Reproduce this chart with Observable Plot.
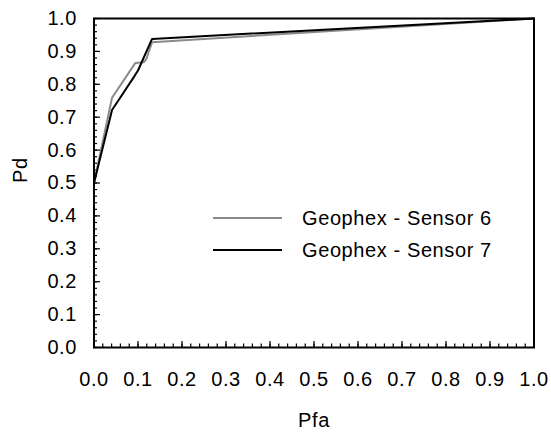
<!DOCTYPE html>
<html>
<head>
<meta charset="utf-8">
<script src="https://cdn.jsdelivr.net/npm/d3@7"></script>
<script src="https://cdn.jsdelivr.net/npm/@observablehq/plot@0.6"></script>
<style>
  html, body { margin: 0; padding: 0; background: #fff; }
  #wrap { position: relative; width: 551px; height: 434px; font-family: "Liberation Sans", Arial, sans-serif; }
  #legend { position: absolute; left: 213px; top: 202px; font-size: 20px; letter-spacing: 0.6px; color: #000; }
  #legend .row { display: flex; align-items: center; height: 32px; }
  #legend svg { margin-right: 20px; }
</style>
</head>
<body>
<div id="wrap"></div>
<script>
// Series names
const seriesNames = ["Geophex - Sensor 6", "Geophex - Sensor 7"];
const seriesColors = ["#8a8a8a", "#000000"];
// Sensor 6 (gray)
const pfa6 = [0, 0.041, 0.094, 0.113, 0.119, 0.132, 1];
const pd6  = [0.5, 0.759, 0.865, 0.867, 0.877, 0.928, 1];
// Sensor 7 (black)
const pfa7 = [0, 0.041, 0.092, 0.100, 0.132, 1];
const pd7  = [0.5, 0.722, 0.825, 0.842, 0.938, 1];
// Tick values
const majorTicks = [0, 0.1, 0.2, 0.3, 0.4, 0.5, 0.6, 0.7, 0.8, 0.9, 1.0];
const minorTicks = d3.range(0, 51).map(i => i / 50);

const s6 = pfa6.map((x, i) => ({x, y: pd6[i], s: seriesNames[0]}));
const s7 = pfa7.map((x, i) => ({x, y: pd7[i], s: seriesNames[1]}));

const fmt = d3.format(".1f");

const W = 551, H = 434, mL = 93.5, mR = 17.5, mT = 18, mB = 87;
const plotW = W - mL - mR, plotH = H - mT - mB;

const chart = Plot.plot({
  width: W,
  height: H,
  marginLeft: mL,
  marginRight: mR,
  marginTop: mT,
  marginBottom: mB,
  style: {fontFamily: "'Liberation Sans', Arial, sans-serif", fontSize: "20px", background: "#fff", color: "#000", letterSpacing: "0.6px"},
  x: {domain: [0, 1]},
  y: {domain: [0, 1]},
  marks: [
    // inward minor and major ticks
    Plot.tickX(minorTicks, {x: d => d, insetTop: plotH - 3.5, stroke: "#000", strokeWidth: 1.2}),
    Plot.tickX(majorTicks, {x: d => d, insetTop: plotH - 6, stroke: "#000", strokeWidth: 1.2}),
    Plot.tickY(minorTicks, {y: d => d, insetRight: plotW - 3.5, stroke: "#000", strokeWidth: 1.2}),
    Plot.tickY(majorTicks, {y: d => d, insetRight: plotW - 6.5, stroke: "#000", strokeWidth: 1.2}),
    Plot.axisX({ticks: majorTicks, tickSize: 0, tickPadding: 24, tickFormat: fmt, label: null, fontSize: 20}),
    Plot.axisY({ticks: majorTicks, tickSize: 0, tickPadding: 17, tickFormat: fmt, label: null, fontSize: 20}),
    Plot.text(["Pfa"], {frameAnchor: "bottom", dy: 73, fontSize: 20, lineAnchor: "middle"}),
    Plot.text(["Pd"], {frameAnchor: "left", dx: -73, rotate: -90, fontSize: 20}),
    Plot.line(s6, {x: "x", y: "y", stroke: seriesColors[0], strokeWidth: 2, curve: "linear"}),
    Plot.line(s7, {x: "x", y: "y", stroke: seriesColors[1], strokeWidth: 2, curve: "linear"}),
    Plot.frame({stroke: "#000", strokeWidth: 2})
  ]
});

const wrap = document.getElementById("wrap");
wrap.appendChild(chart);

const legend = document.createElement("div");
legend.id = "legend";
seriesNames.forEach((name, i) => {
  const row = document.createElement("div");
  row.className = "row";
  row.innerHTML = `<svg width="69" height="4"><line x1="0" x2="69" y1="2" y2="2" stroke="${seriesColors[i]}" stroke-width="2"/></svg><span>${name}</span>`;
  legend.appendChild(row);
});
wrap.appendChild(legend);
</script>
</body>
</html>
